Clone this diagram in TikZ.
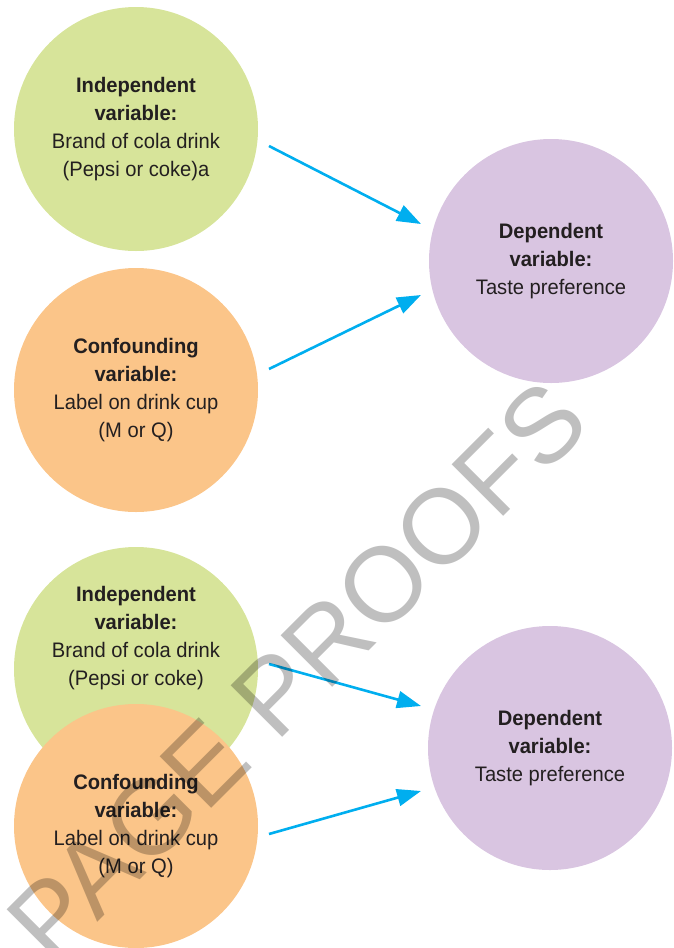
\documentclass[tikz,border=0pt]{standalone}
\usepackage{fontspec}
\setmainfont{Liberation Sans}[FakeStretch=0.96]
\newfontfamily\wmfont{Liberation Sans}
\usetikzlibrary{arrows.meta}
\definecolor{cgreen}{RGB}{215,228,154}
\definecolor{corange}{RGB}{251,197,137}
\definecolor{cpurple}{RGB}{217,197,225}
\definecolor{ccyan}{RGB}{0,174,239}
\definecolor{ctext}{RGB}{35,31,32}
\tikzset{
  bubble/.style={circle, minimum size=244pt, inner sep=0pt, draw=none, text=ctext,
    align=center, font=\fontsize{21}{28}\selectfont},
  txt/.style={text=ctext, align=center, font=\fontsize{21}{28}\selectfont},
  link/.style={draw=ccyan, line width=2.6pt, -{Triangle[length=24pt,width=17pt]}},
  watermark/.style={rotate=45, anchor=base, text=black, text opacity=0.25,
    font=\wmfont\fontsize{106}{106}\selectfont}
}
\begin{document}
\begin{tikzpicture}[x=1pt,y=-1pt]
\useasboundingbox (0,0) rectangle (674,948);
\clip (0,0) rectangle (674,948);
% top group
\node[bubble, fill=cgreen] (g1) at (136,129) {\textbf{Independent}\\\textbf{variable:}\\Brand of cola drink\\(Pepsi or coke)a};
\node[bubble, fill=corange] (o1) at (136,390) {\textbf{Confounding}\\\textbf{variable:}\\Label on drink cup\\(M or Q)};
\node[bubble, fill=cpurple] (p1) at (551,261) {\textbf{Dependent}\\\textbf{variable:}\\Taste preference};
% bottom group
\node[bubble, fill=cgreen] (g2) at (136,669) {};
\node[txt] (g2t) at (136,638) {\textbf{Independent}\\\textbf{variable:}\\Brand of cola drink\\(Pepsi or coke)};
\node[bubble, fill=corange] (o2) at (136,826) {\textbf{Confounding}\\\textbf{variable:}\\Label on drink cup\\(M or Q)};
\node[bubble, fill=cpurple] (p2) at (550,748) {\textbf{Dependent}\\\textbf{variable:}\\Taste preference};
% connector ends
\coordinate (a1s) at (269,146); \coordinate (a1e) at (421,224);
\coordinate (a2s) at (269,369); \coordinate (a2e) at (421,295);
\coordinate (a3s) at (269,664); \coordinate (a3e) at (421,706);
\coordinate (a4s) at (269,834); \coordinate (a4e) at (421,791);
\draw[link] (a1s) -- (a1e);
\draw[link] (a2s) -- (a2e);
\draw[link] (a3s) -- (a3e);
\draw[link] (a4s) -- (a4e);
% watermark
\node[watermark] (wm) at (323,697) {PAGE PROOFS};
\end{tikzpicture}
\end{document}
